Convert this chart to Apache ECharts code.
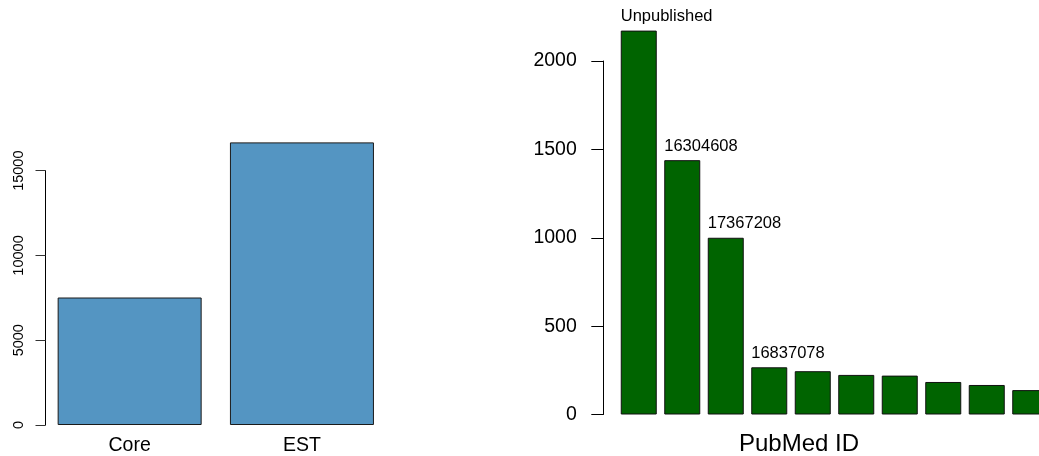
<!DOCTYPE html>
<html>
<head>
<meta charset="utf-8">
<script src="https://cdn.jsdelivr.net/npm/echarts@6/dist/echarts.min.js"></script>
<style>
  html, body { margin: 0; padding: 0; background: #fff; overflow: hidden; }
  /* the right panel's plot area runs past the window edge */
  #chart { width: 1070px; height: 456px; }
</style>
</head>
<body>
<div id="chart"></div>
<script>
// Left panel: sequence counts by library type
const libraryTypes = ['Core', 'EST'];
const libraryCounts = [7520, 16670];
const countTicks = { min: 0, max: 15000, interval: 5000 };

// Right panel: sequences per PubMed reference (top ten, ranked)
const pubmedRanks = ['1', '2', '3', '4', '5', '6', '7', '8', '9', '10'];
const pubmedCounts = [2172, 1439, 1000, 267, 245, 224, 220, 184, 167, 138];
const pubmedLabels = ['Unpublished', '16304608', '17367208', '16837078', '', '', '', '', '', ''];
const pubmedTicks = { min: 0, max: 2000, interval: 500 };

const FONT = "'Liberation Sans', Arial, Helvetica, sans-serif";
const INK = '#000';
const plain = v => String(v);

const chart = echarts.init(document.getElementById('chart'), null, { renderer: 'canvas' });

chart.setOption({
  animation: false,
  backgroundColor: '#fff',
  textStyle: { fontFamily: FONT, color: INK },
  title: {
    text: 'PubMed ID',
    left: 794,
    top: 427,
    textAlign: 'center',
    textStyle: { fontFamily: FONT, fontSize: 24, fontWeight: 'normal', color: INK }
  },
  grid: [
    { left: 43.5, width: 344.6, top: 170.7, height: 254.6, containLabel: false },
    { left: 617, width: 435, top: 61, height: 353.5, containLabel: false }
  ],
  xAxis: [
    {
      gridIndex: 0,
      type: 'category',
      data: libraryTypes,
      axisLine: { show: false },
      axisTick: { show: false },
      axisLabel: { margin: 11, fontSize: 19.5, color: INK, fontFamily: FONT }
    },
    {
      gridIndex: 1,
      type: 'category',
      data: pubmedRanks,
      axisLine: { show: false },
      axisTick: { show: false },
      axisLabel: { show: false }
    }
  ],
  yAxis: [
    {
      gridIndex: 0,
      type: 'value',
      min: countTicks.min,
      max: countTicks.max,
      interval: countTicks.interval,
      offset: -2,
      splitLine: { show: false },
      axisLine: { show: true, lineStyle: { color: INK, width: 1 } },
      axisTick: { show: true, length: 10, lineStyle: { color: '#333', width: 1 } },
      axisLabel: { rotate: 90, margin: 19, fontSize: 14.5, color: INK, fontFamily: FONT, formatter: plain }
    },
    {
      gridIndex: 1,
      type: 'value',
      min: pubmedTicks.min,
      max: pubmedTicks.max,
      interval: pubmedTicks.interval,
      offset: 13.7,
      splitLine: { show: false },
      axisLine: { show: true, lineStyle: { color: INK, width: 1 } },
      axisTick: { show: true, length: 12, lineStyle: { color: INK, width: 1 } },
      axisLabel: { margin: 26.5, fontSize: 19.5, color: INK, fontFamily: FONT, formatter: plain }
    }
  ],
  series: [
    {
      type: 'bar',
      xAxisIndex: 0,
      yAxisIndex: 0,
      data: libraryCounts,
      barWidth: 144,
      clip: false,
      itemStyle: { color: '#5495C2', borderColor: '#1a1a1a', borderWidth: 1 }
    },
    {
      type: 'bar',
      xAxisIndex: 1,
      yAxisIndex: 1,
      data: pubmedCounts,
      barWidth: 36,
      clip: false,
      itemStyle: { color: '#006400', borderColor: '#111', borderWidth: 1 },
      label: {
        show: true,
        position: [0, -5.5],
        align: 'left',
        verticalAlign: 'bottom',
        fontSize: 16.5,
        color: INK,
        fontFamily: FONT,
        formatter: p => pubmedLabels[p.dataIndex]
      }
    }
  ]
});
</script>
</body>
</html>
